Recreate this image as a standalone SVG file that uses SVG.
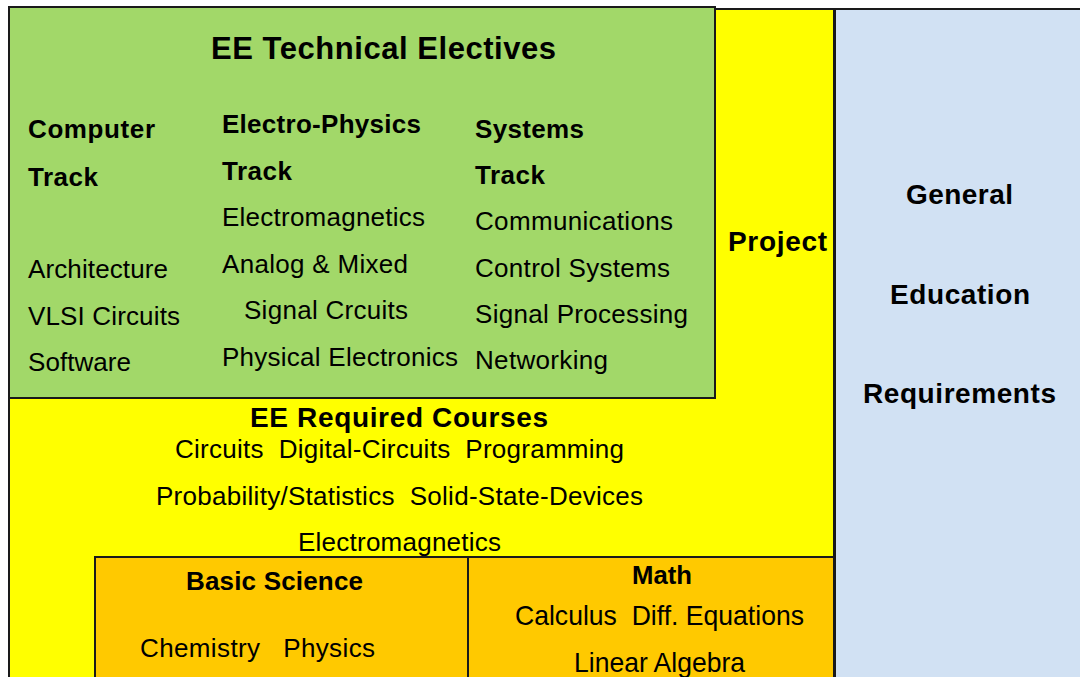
<svg xmlns="http://www.w3.org/2000/svg" width="1080" height="677" viewBox="0 0 1080 677">
<style>
.t{font-family:"Liberation Sans",Arial,sans-serif;fill:#000}
.r{font-size:26px}
.b{font-size:26px;font-weight:bold}
.bb{font-size:28px;font-weight:bold}
.box{stroke:#1a1a1a;stroke-width:2}
</style>
<rect width="1080" height="677" fill="#ffffff"/>
<g id="yellow">
<rect class="box" x="9" y="9" width="825" height="690" fill="#FFFF00"/>
<text class="t bb" x="728" y="251" textLength="99">Project</text>
</g>
<g id="gen-ed">
<rect class="box" x="835" y="9" width="260" height="690" fill="#D1E1F3"/>
<text class="t bb" x="906" y="204" textLength="107">General</text>
<text class="t bb" x="890" y="304" textLength="140">Education</text>
<text class="t bb" x="863" y="403" textLength="193">Requirements</text>
</g>
<g id="electives">
<rect class="box" x="9" y="7" width="706" height="391" fill="#A2D869"/>
<text class="t" x="211" y="59" font-size="31" font-weight="bold" textLength="345">EE Technical Electives</text>
<text class="t b" x="28" y="138" textLength="127">Computer</text>
<text class="t b" x="28" y="186" textLength="70">Track</text>
<text class="t r" x="28" y="278" textLength="140">Architecture</text>
<text class="t r" x="28" y="325" textLength="152">VLSI Circuits</text>
<text class="t r" x="28" y="371" textLength="103">Software</text>
<text class="t b" x="222" y="133" textLength="199">Electro-Physics</text>
<text class="t b" x="222" y="180" textLength="70">Track</text>
<text class="t r" x="222" y="226" textLength="203">Electromagnetics</text>
<text class="t r" x="222" y="273" textLength="186">Analog &amp; Mixed</text>
<text class="t r" x="244" y="319" textLength="164">Signal Crcuits</text>
<text class="t r" x="222" y="366" textLength="236">Physical Electronics</text>
<text class="t b" x="475" y="138" textLength="109">Systems</text>
<text class="t b" x="475" y="184" textLength="70">Track</text>
<text class="t r" x="475" y="230" textLength="198">Communications</text>
<text class="t r" x="475" y="277" textLength="195">Control Systems</text>
<text class="t r" x="475" y="323" textLength="213">Signal Processing</text>
<text class="t r" x="475" y="369" textLength="133">Networking</text>
</g>
<g id="required">
<text class="t bb" x="250" y="427" textLength="298">EE Required Courses</text>
<text class="t r" x="175" y="458" textLength="449" xml:space="preserve">Circuits  Digital-Circuits  Programming</text>
<text class="t r" x="156" y="505" textLength="487" xml:space="preserve">Probability/Statistics  Solid-State-Devices</text>
<text class="t r" x="298" y="551" textLength="203">Electromagnetics</text>
</g>
<g id="basic-science">
<rect class="box" x="95" y="557" width="373" height="140" fill="#FFC900"/>
<text class="t b" x="186" y="590" textLength="177">Basic Science</text>
<text class="t r" x="140" y="657" textLength="235" xml:space="preserve">Chemistry   Physics</text>
</g>
<g id="math">
<rect class="box" x="468" y="557" width="366" height="140" fill="#FFC900"/>
<text class="t" x="632" y="584" font-size="25" font-weight="bold" textLength="60" lengthAdjust="spacingAndGlyphs">Math</text>
<text class="t" x="515" y="625" font-size="28" textLength="289" lengthAdjust="spacingAndGlyphs" xml:space="preserve">Calculus  Diff. Equations</text>
<text class="t" x="574" y="672" font-size="28" textLength="171" lengthAdjust="spacingAndGlyphs">Linear Algebra</text>
</g>
<g id="connectors"></g>
</svg>
